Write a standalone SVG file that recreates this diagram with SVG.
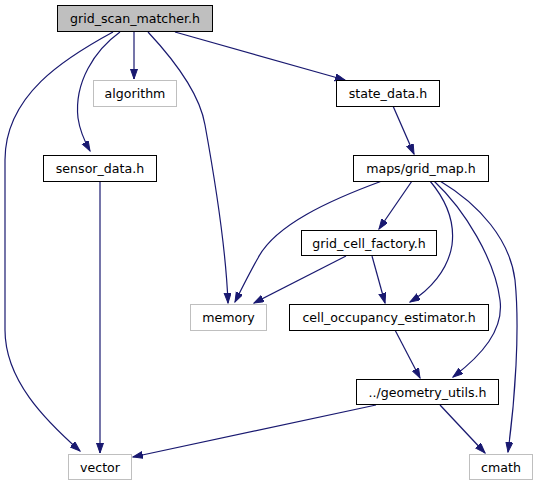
<svg xmlns="http://www.w3.org/2000/svg" width="538" height="485" viewBox="0 0 538 485">
<style>
.n rect{fill:#ffffff;stroke:#000000;stroke-width:1}
.n.root rect{fill:#bfbfbf}
.n.ext rect{stroke:#bfbfbf}
.n text{font-family:"DejaVu Sans",sans-serif;font-size:12.6px;text-anchor:middle;fill:#000000}
.e path{fill:none;stroke:#191970;stroke-width:1.2;marker-end:url(#a)}
</style>
<defs>
<marker id="a" markerUnits="userSpaceOnUse" markerWidth="11" markerHeight="8" refX="10" refY="3.5" orient="auto">
<path d="M0,0 L10,3.5 L0,7 z" fill="#191970" stroke="#191970" stroke-width="1"/>
</marker>
</defs>
<rect width="538" height="485" fill="#ffffff"/>
<g id="edges" class="e">
<path d="M113,32 C65,58 5,95 5,160 L5,330 C5,380 45,420 80,451"/>
<path d="M120,32 C95,50 74,82 78,118 C80,132 85,142 90,151"/>
<path d="M134,32 L134,79"/>
<path d="M148,32 C176,62 200,95 205,125 C215,180 226,250 228,303"/>
<path d="M175,32 L345,80"/>
<path d="M393,106 L414,154"/>
<path d="M382,181 C330,200 275,225 258,258 C250,272 242,288 235,302"/>
<path d="M412,181 L379,229"/>
<path d="M430,181 C446,200 455,222 452,245 C448,270 430,290 410,302"/>
<path d="M434,181 C465,210 495,260 500,300 C504,330 482,355 453,377"/>
<path d="M440,181 C480,205 510,240 515,280 C520,330 515,400 508,452"/>
<path d="M346,256 L254,303"/>
<path d="M372,256 L385,303"/>
<path d="M395,330 L420,378"/>
<path d="M376,405 L133,457"/>
<path d="M440,405 L485,453"/>
<path d="M100,181 L100,453"/>
</g>
<g id="grid_scan_matcher" class="n root"><rect x="57.5" y="5.5" width="155" height="26"/><text x="135" y="23">grid_scan_matcher.h</text></g>
<g id="algorithm" class="n ext"><rect x="93.5" y="80.5" width="83" height="26"/><text x="135" y="98">algorithm</text></g>
<g id="state_data" class="n"><rect x="336.5" y="80.5" width="103" height="26"/><text x="388" y="98">state_data.h</text></g>
<g id="sensor_data" class="n"><rect x="43.5" y="155.5" width="113" height="26"/><text x="100" y="173">sensor_data.h</text></g>
<g id="grid_map" class="n"><rect x="353.5" y="155.5" width="135" height="26"/><text x="421" y="173">maps/grid_map.h</text></g>
<g id="grid_cell_factory" class="n"><rect x="301.5" y="230.5" width="135" height="25"/><text x="369" y="247.5">grid_cell_factory.h</text></g>
<g id="memory" class="n ext"><rect x="190.5" y="304.5" width="76" height="26"/><text x="228.5" y="322">memory</text></g>
<g id="cell_occupancy_estimator" class="n"><rect x="289.5" y="304.5" width="199" height="26"/><text x="389" y="322">cell_occupancy_estimator.h</text></g>
<g id="geometry_utils" class="n"><rect x="356.5" y="379.5" width="142" height="25"/><text x="427.5" y="396.5">../geometry_utils.h</text></g>
<g id="vector" class="n ext"><rect x="68.5" y="454.5" width="63" height="25"/><text x="100" y="471.5">vector</text></g>
<g id="cmath" class="n ext"><rect x="469.5" y="454.5" width="63" height="25"/><text x="501" y="471.5">cmath</text></g>
</svg>
